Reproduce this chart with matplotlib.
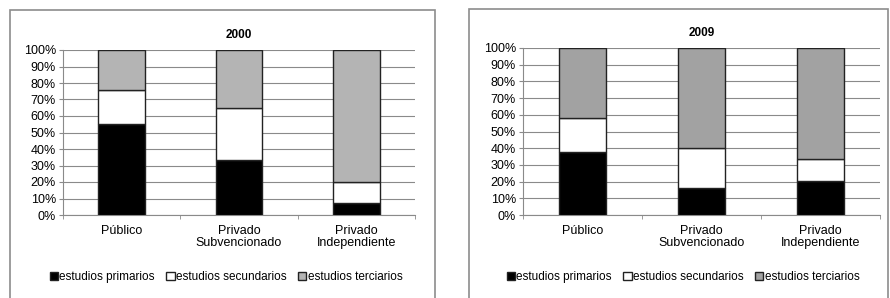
import matplotlib.pyplot as plt
from matplotlib.patches import Rectangle
import numpy as np

categorias = ["Público", "Privado\nSubvencionado", "Privado\nIndependiente"]
series = ["estudios primarios", "estudios secundarios", "estudios terciarios"]

# porcentajes
primarios_2000 = [55, 33.5, 7]
secundarios_2000 = [21, 31.5, 13]
terciarios_2000 = [24, 35, 80]

primarios_2009 = [38, 16, 20.5]
secundarios_2009 = [20, 24, 13]
terciarios_2009 = [42, 60, 66.5]

colores = ["#000000", "#ffffff", "#b4b4b4"]

plt.rcParams['font.family'] = ['Liberation Sans', 'DejaVu Sans']

fig = plt.figure(figsize=(8.9, 2.98), dpi=100)
W, H = 890, 298


def caja(x0, y0, x1, y1):
    fig.patches.append(Rectangle((x0 / W, 1 - y1 / H), (x1 - x0) / W, (y1 - y0) / H,
                                 transform=fig.transFigure, fill=False,
                                 edgecolor="#8c8c8c", linewidth=1.2))


def grafico(px, titulo, datos, color_ter, leyenda_x):
    x0, y0, x1, y1 = px
    ax = fig.add_axes([x0 / W, 1 - y1 / H, (x1 - x0) / W, (y1 - y0) / H])
    x = np.arange(len(categorias))
    base = np.zeros(len(categorias))
    cols = [colores[0], colores[1], color_ter]
    barras = []
    for valores, col, nombre in zip(datos, cols, series):
        b = ax.bar(x, valores, 0.4, bottom=base, color=col, edgecolor="#222222",
                   linewidth=1.0, label=nombre, zorder=3)
        barras.append(b)
        base += np.array(valores)
    ax.set_xlim(-0.5, 2.5)
    ax.set_ylim(0, 100)
    ax.set_yticks(range(0, 101, 10))
    ax.set_yticklabels([f"{v}%" for v in range(0, 101, 10)], fontsize=9)
    ax.yaxis.grid(True, color="#8a8a8a", linewidth=0.8, zorder=0)
    ax.set_xticks(x)
    ax.set_xticklabels(categorias, fontsize=9, linespacing=1.05)
    ax.set_xticks([-0.5, 0.5, 1.5, 2.5], minor=True)
    ax.tick_params(axis="x", which="major", length=0, pad=7)
    ax.tick_params(axis="x", which="minor", length=3, color="#8a8a8a")
    ax.tick_params(axis="y", length=3, color="#8a8a8a", pad=2)
    for s in ["top", "right"]:
        ax.spines[s].set_visible(False)
    for s in ["left", "bottom"]:
        ax.spines[s].set_color("#8a8a8a")
    ax.set_title(titulo, fontsize=8.5, fontweight="bold", pad=9)
    fig.legend(handles=barras, labels=series, loc="center",
               bbox_to_anchor=(leyenda_x / W, 1 - 277 / H), ncol=3, frameon=False,
               fontsize=8.5, handlelength=0.7, handleheight=0.7, handletextpad=0.1,
               columnspacing=1.0)
    return ax


caja(10, 10, 435, 305)
caja(469, 9, 888, 305)

grafico((63, 50, 415, 215), "2000",
        [primarios_2000, secundarios_2000, terciarios_2000], "#b4b4b4", 226)
grafico((523, 48, 880, 215), "2009",
        [primarios_2009, secundarios_2009, terciarios_2009], "#a2a2a2", 683)

fig.savefig("out.png", dpi=100)
